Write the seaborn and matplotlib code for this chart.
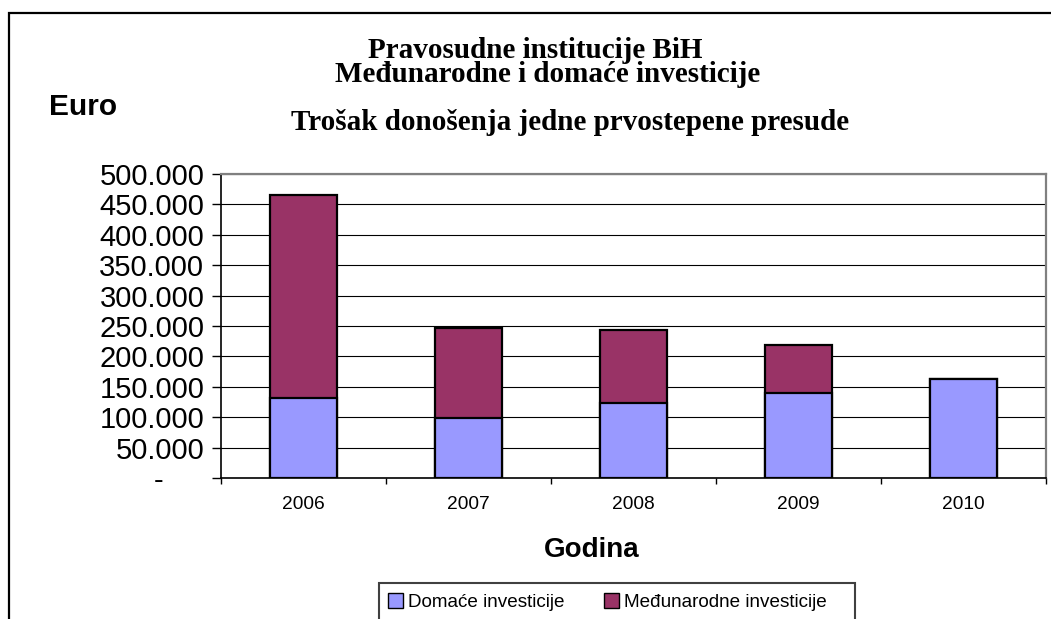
import matplotlib
matplotlib.use("Agg")
import matplotlib.pyplot as plt
from matplotlib.patches import Patch, Rectangle
from matplotlib.ticker import FuncFormatter, MultipleLocator
import pandas as pd
import seaborn as sns

# data (Euro)
years = ["2006", "2007", "2008", "2009", "2010"]
domace = [131500, 98500, 123300, 139800, 162900]
medjunarodne = [333800, 148500, 120900, 79700, 0]

label_domace = "Domaće investicije"
label_medj = "Međunarodne investicije"
col_domace = "#9999FF"
col_medj = "#993366"

df = pd.DataFrame({"godina": years, "domace": domace, "medj": medjunarodne})
df["ukupno"] = df["domace"] + df["medj"]

sns.set_style("white")
plt.rcParams["font.family"] = ["Liberation Sans", "DejaVu Sans"]
plt.rcParams["text.color"] = "black"
plt.rcParams["xtick.color"] = "black"
plt.rcParams["ytick.color"] = "black"
plt.rcParams["axes.labelcolor"] = "black"

fig = plt.figure(figsize=(10.51, 6.19), dpi=100)
ax = fig.add_axes([221 / 1051, 1 - 478 / 619, 825 / 1051, 304 / 619])

# stacked bars: total first (international colour), then domestic on top of it
sns.barplot(data=df, x="godina", y="ukupno", order=years, color=col_medj,
            saturation=1, width=0.404, edgecolor="black", linewidth=1.6, ax=ax)
sns.barplot(data=df, x="godina", y="domace", order=years, color=col_domace,
            saturation=1, width=0.404, edgecolor="black", linewidth=1.6, ax=ax)

ax.set_xlim(-0.5, 4.5)
ax.set_ylim(0, 500000)
ax.yaxis.set_major_locator(MultipleLocator(50000))
ax.yaxis.set_major_formatter(FuncFormatter(
    lambda v, p: "-     " if v == 0 else f"{int(v):,}".replace(",", ".")))
ax.grid(axis="y", color="black", linewidth=0.8)
ax.set_axisbelow(True)

# category boundary ticks on the x axis
ax.set_xticks([i - 0.5 for i in range(6)], minor=True)
ax.tick_params(axis="x", which="minor", bottom=True, length=4.5, width=1,
               color="black", direction="out")
ax.tick_params(axis="x", which="major", bottom=True, length=0, pad=13,
               labelsize=13.8, labelcolor="black")
ax.tick_params(axis="y", which="major", left=True, length=6.5, width=1, color="black",
               direction="out", pad=5.5, labelsize=21, labelcolor="black")
ax.set_xlabel("")
ax.set_ylabel("")

for side in ["left", "bottom"]:
    ax.spines[side].set_color("black")
    ax.spines[side].set_linewidth(1.2)
for side in ["top", "right"]:
    ax.spines[side].set_color("#808080")
    ax.spines[side].set_linewidth(1.6)

# titles and axis names
serif = ["Liberation Serif", "DejaVu Serif"]
fig.text(535 / 1051, 1 - 50 / 619, "Pravosudne institucije BiH", ha="center", va="center",
         fontsize=21, fontweight="bold", family=serif, color="black")
fig.text(548 / 1051, 1 - 75 / 619, "Međunarodne i domaće investicije", ha="center",
         va="center", fontsize=21, fontweight="bold", family=serif, color="black")
fig.text(570 / 1051, 1 - 122 / 619, "Trošak donošenja jedne prvostepene presude",
         ha="center", va="center", fontsize=21, fontweight="bold", family=serif,
         color="black")
fig.text(83 / 1051, 1 - 107 / 619, "Euro", ha="center", va="center",
         fontsize=21.5, fontweight="bold", color="black")
fig.text(592 / 1051, 1 - 550 / 619, "Godina", ha="center", va="center",
         fontsize=20, fontweight="bold", color="black")

# legend (box runs off the bottom edge as in the original)
fig.patches.append(Rectangle((379 / 1051, -0.1), 476 / 1051, 0.1 + 1 - 583 / 619,
                             transform=fig.transFigure, facecolor="white",
                             edgecolor="#404040", linewidth=1.5))
handles = [Patch(facecolor=col_domace, edgecolor="black", linewidth=1),
           Patch(facecolor=col_medj, edgecolor="black", linewidth=1)]
fig.legend(handles, [label_domace, label_medj], ncol=2, frameon=False,
           loc="center left", bbox_to_anchor=(388 / 1051, 1 - 602 / 619),
           borderpad=0, borderaxespad=0, handlelength=0.8, handleheight=0.8,
           handletextpad=0.25, columnspacing=2.1, fontsize=13.6, labelcolor="black")

# outer chart frame (right and bottom run off the picture)
fig.patches.append(Rectangle((9 / 1051, -0.1), 1.2, 1.1 - 13 / 619,
                             transform=fig.transFigure, fill=False,
                             edgecolor="black", linewidth=1.6))

fig.savefig("out.png", dpi=100)
